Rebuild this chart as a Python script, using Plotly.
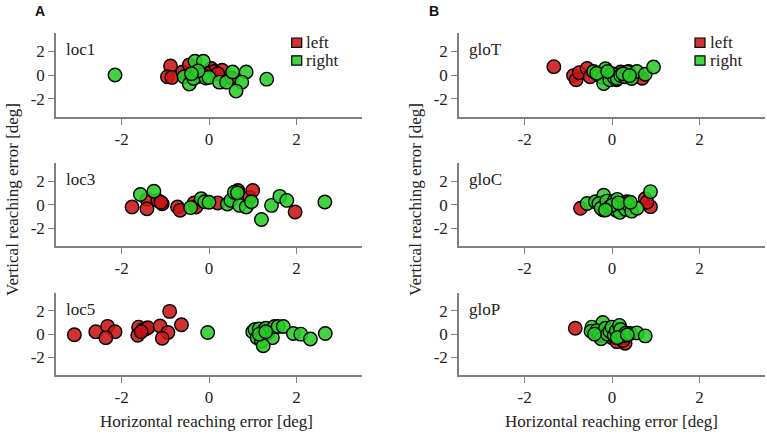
import plotly.graph_objects as go
from plotly.subplots import make_subplots

W, H = 767, 434


def px(x):
    return x / W


def py(y):
    return 1 - y / H


panels = ["loc1", "loc3", "loc5", "gloT", "gloC", "gloP"]

# ---- data (deg) ----
loc1_left_x = [-0.88, -0.95, -0.85, -0.6, -0.45, -0.25, 0.05, 0.12, 0.3, 0.52, 0.2, -0.1]
loc1_left_y = [0.75, -0.15, -0.2, 0.25, 0.85, 0.3, 0.55, 0.3, 0.4, -0.25, 0.1, 0.2]
loc1_right_x = [-2.15, -0.57, -0.45, -0.32, -0.13, -0.3, -0.22, -0.15, -0.35, -0.07, 0.0, 0.24, 0.4, 0.54, 0.85, 0.75, 0.62, 1.32, -0.25, -0.4]
loc1_right_y = [0.0, -0.15, -0.75, 1.15, 1.15, 0.2, -0.1, 0.0, -0.3, -0.25, -0.2, -0.6, -0.6, 0.25, 0.25, -0.6, -1.35, -0.35, 0.35, 0.1]

loc3_left_x = [-1.76, -1.42, -1.42, -1.17, -1.07, -0.72, -0.66, -0.34, -0.3, 0.2, 0.66, 0.93, 1.0, 1.97, -1.1]
loc3_left_y = [-0.2, 0.45, -0.35, 0.36, 0.08, -0.2, -0.47, 0.14, -0.2, 0.14, 1.2, 0.6, 1.2, -0.62, 0.2]
loc3_right_x = [-1.57, -1.26, -0.42, -0.18, -0.1, 0.0, 0.42, 0.5, 0.58, 0.7, 0.85, 0.97, 1.2, 1.43, 1.62, 1.78, 2.65, 0.65]
loc3_right_y = [0.86, 1.14, -0.25, 0.5, 0.25, 0.2, 0.05, 0.36, 1.05, -0.06, -0.2, 0.25, -1.26, -0.06, 0.7, 0.36, 0.22, 1.0]

loc5_left_x = [-3.08, -2.59, -2.32, -2.15, -2.36, -1.61, -1.63, -1.52, -1.45, -1.4, -1.12, -0.94, -1.07, -0.9, -0.63, -1.55]
loc5_left_y = [-0.05, 0.2, 0.67, 0.2, -0.3, 0.6, -0.1, 0.35, 0.45, 0.55, 0.7, 0.14, -0.35, 1.95, 0.8, 0.2]
loc5_right_x = [-0.03, 1.0, 1.05, 1.1, 1.15, 1.2, 1.25, 1.3, 1.35, 1.45, 1.5, 1.58, 1.7, 1.93, 2.1, 2.32, 2.66, 1.24, 1.15, 1.3]
loc5_right_y = [0.14, 0.2, 0.4, -0.3, 0.45, -0.6, 0.3, 0.5, 0.1, -0.3, 0.65, 0.65, 0.65, 0.05, 0.0, -0.42, 0.05, -1.0, 0.0, 0.2]

gloT_left_x = [-1.33, -0.88, -0.82, -0.75, -0.57, -0.5, -0.1, 0.05, 0.2, 0.38, 0.45, 0.69, -0.3, 0.1]
gloT_left_y = [0.7, -0.05, -0.4, 0.2, 0.55, -0.15, 0.1, -0.2, 0.25, 0.3, -0.1, -0.27, 0.15, -0.4]
gloT_right_x = [-0.42, -0.3, -0.22, -0.15, -0.19, -0.05, 0.0, 0.05, 0.12, 0.2, 0.3, 0.35, 0.45, 0.57, 0.76, 0.95, -0.35, -0.1, 0.25, 0.4]
gloT_right_y = [0.3, 0.0, -0.2, 0.53, -0.72, -0.4, 0.1, -0.2, -0.3, -0.05, -0.15, 0.25, -0.3, 0.3, 0.06, 0.67, 0.15, 0.3, 0.1, -0.05]

gloC_left_x = [-0.72, -0.2, -0.1, 0.05, 0.2, 0.34, 0.25, 0.76, 0.88, 0.8]
gloC_left_y = [-0.3, -0.45, -0.1, -0.3, 0.1, 0.25, -0.4, 0.5, -0.17, 0.2]
gloC_right_x = [-0.57, -0.38, -0.19, -0.3, -0.25, -0.12, -0.05, 0.05, 0.1, 0.12, 0.18, 0.22, 0.28, 0.32, 0.38, 0.45, 0.57, 0.88, 0.0, 0.15, -0.15, 0.42]
gloC_right_y = [0.1, 0.25, 0.8, 0.1, -0.3, 0.3, -0.2, 0.3, -0.5, 0.45, -0.65, 0.1, -0.2, -0.4, 0.0, -0.55, -0.3, 1.1, -0.05, 0.15, -0.45, 0.2]

gloP_left_x = [-0.84, -0.3, -0.15, 0.0, 0.11, 0.3, 0.25, -0.2, 0.15, -0.05]
gloP_left_y = [0.5, -0.1, 0.3, -0.3, -0.64, -0.78, -0.55, 0.2, -0.2, 0.05]
gloP_right_x = [-0.46, -0.48, -0.21, -0.35, -0.3, -0.25, -0.15, -0.1, -0.05, 0.0, 0.05, 0.1, 0.17, 0.2, 0.25, 0.32, 0.42, 0.57, 0.76, -0.4, 0.12, 0.35]
gloP_right_y = [0.6, 0.25, 1.0, 0.3, -0.1, -0.4, 0.5, 0.0, 0.25, 0.6, -0.1, 0.3, 0.75, 0.4, -0.15, 0.1, 0.05, 0.11, -0.15, 0.0, -0.3, -0.05]

tick_vals = [-2, 0, 2]
tick_text = ["-2", "0", "2"]
legend_labels = ["left", "right"]

data = {
    "loc1": (loc1_left_x, loc1_left_y, loc1_right_x, loc1_right_y),
    "loc3": (loc3_left_x, loc3_left_y, loc3_right_x, loc3_right_y),
    "loc5": (loc5_left_x, loc5_left_y, loc5_right_x, loc5_right_y),
    "gloT": (gloT_left_x, gloT_left_y, gloT_right_x, gloT_right_y),
    "gloC": (gloC_left_x, gloC_left_y, gloC_right_x, gloC_right_y),
    "gloP": (gloP_left_x, gloP_left_y, gloP_right_x, gloP_right_y),
}

RED = "rgba(204,20,20,0.88)"
GREEN = "rgba(40,204,40,0.88)"
SERIF = "Liberation Serif, Times New Roman, serif"

fig = make_subplots(rows=3, cols=2)

positions = {"loc1": (1, 1), "loc3": (2, 1), "loc5": (3, 1),
             "gloT": (1, 2), "gloC": (2, 2), "gloP": (3, 2)}

for name in panels:
    r, c = positions[name]
    lx, ly, rx, ry = data[name]
    fig.add_hline(y=0, layer="below", line=dict(color="black", width=1.5, dash="2px,2px"), row=r, col=c)
    fig.add_vline(x=0, layer="below", line=dict(color="black", width=1.5, dash="2px,2px"), row=r, col=c)
    for xs, ys, col, lab in ((lx, ly, RED, "left"), (rx, ry, GREEN, "right")):
        fig.add_trace(go.Scatter(
            x=xs, y=ys, mode="markers", name=lab, showlegend=False,
            marker=dict(size=13.5, color=col, line=dict(color="black", width=1.4)),
        ), row=r, col=c)
    fig.add_annotation(text=name, x=-3.32, y=2.1, xanchor="left", yanchor="middle",
                       showarrow=False, font=dict(family=SERIF, size=17, color="#222"),
                       row=r, col=c)

# pixel geometry (reference picture pixels) -> paper domains
xdom = {1: [px(56), px(362)], 2: [px(459), px(765)]}
ypix = {1: (33.3, 116.7), 2: (163.3, 246.0), 3: (293.3, 375.0)}

axis_common = dict(
    range=[-3.5, 3.5], showgrid=False, zeroline=False, showline=True,
    linecolor="#808080", linewidth=1.6, ticks="outside", ticklen=6,
    tickcolor="#808080", tickwidth=1.4, tickvals=tick_vals, ticktext=tick_text,
    tickfont=dict(family=SERIF, size=17, color="#222"),
)

for name in panels:
    r, c = positions[name]
    idx = (r - 1) * 2 + c
    xa = "xaxis" if idx == 1 else f"xaxis{idx}"
    ya = "yaxis" if idx == 1 else f"yaxis{idx}"
    top, bot = ypix[r]
    fig.layout[xa].update(domain=xdom[c], **axis_common)
    fig.layout[ya].update(domain=[py(bot), py(top)], **axis_common)

# legends (top panels)
for (sx, tx) in ((296.7, 304), (700, 708)):
    for i, (lab, col) in enumerate(zip(legend_labels, [RED, GREEN])):
        cy = 42.7 + i * 17.8
        fig.add_shape(type="rect", xref="paper", yref="paper",
                      x0=px(sx - 5), x1=px(sx + 5),
                      y0=py(cy + 4.7), y1=py(cy - 4.7),
                      fillcolor=col, line=dict(color="black", width=1.2))
        fig.add_annotation(text=lab, xref="paper", yref="paper", x=px(tx), y=py(cy),
                           xanchor="left", yanchor="middle", showarrow=False,
                           font=dict(family=SERIF, size=17, color="#222"))

# axis titles
for cx in (206, 611):
    fig.add_annotation(text="Horizontal reaching error [deg]", xref="paper", yref="paper",
                       x=px(cx), y=py(421.5), xanchor="center", yanchor="middle",
                       showarrow=False, font=dict(family=SERIF, size=17, color="#222"))
for cx in (12, 415):
    fig.add_annotation(text="Vertical reaching error [deg]", xref="paper", yref="paper",
                       x=px(cx), y=py(200), xanchor="center", yanchor="middle", textangle=-90,
                       showarrow=False, font=dict(family=SERIF, size=17, color="#222"))

# panel letters
for lab, cx in (("A", 40), ("B", 434)):
    fig.add_annotation(text=f"<b>{lab}</b>", xref="paper", yref="paper",
                       x=px(cx), y=py(11), xanchor="center", yanchor="middle",
                       showarrow=False, font=dict(family="Liberation Sans, Arial, sans-serif", size=14, color="#111"))

fig.update_layout(width=W, height=H, margin=dict(l=0, r=0, t=0, b=0),
                  plot_bgcolor="white", paper_bgcolor="white", showlegend=False)

# remove the default 8px page margin so the figure fills the window exactly
fig.write_html("out.html", config={"displayModeBar": False},
               post_script="document.body.style.margin='0';")
